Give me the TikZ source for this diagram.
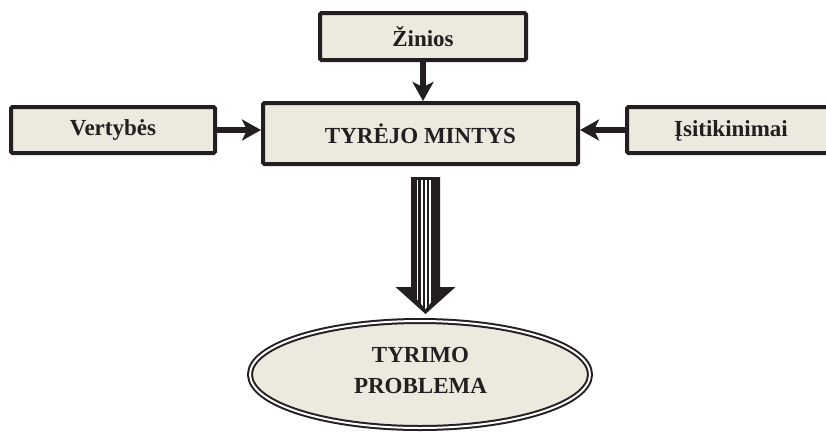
\documentclass[tikz,border=0pt]{standalone}
\usepackage{fontspec}
\setmainfont{Liberation Serif}
\usetikzlibrary{arrows.meta,shapes.geometric,calc}
\definecolor{paper}{RGB}{236,233,223}
\definecolor{ink}{RGB}{35,31,32}
\begin{document}
\begin{tikzpicture}[x=1pt,y=-1pt,
  box/.style={draw=ink, line width=4pt, fill=paper, rounded corners=1.5pt,
    inner sep=0pt, text=ink, font=\fontsize{23}{27}\selectfont\bfseries},
  feed/.style={draw=ink, line width=6pt,
    -{Stealth[length=19pt,width=21pt,inset=5pt]}},
  label text/.style={text=ink, align=center,
    font=\fontsize{23}{31}\selectfont\bfseries}
]
\clip (0,0) rectangle (826,431);

% input boxes and the central box
\node[box, minimum width=206pt, minimum height=47pt] (zin) at (423,36.5) {Žinios};
\node[box, minimum width=204pt, minimum height=46pt] (ver) at (113,130) {Vertybės};
\node[box, minimum width=315pt, minimum height=61pt] (main) at (420.5,133.5) {TYRĖJO MINTYS};
\node[box, minimum width=215pt, minimum height=46pt, anchor=west] (isi) at (625,130) {};
\node[text=ink, font=\fontsize{23}{27}\selectfont\bfseries] (isitxt) at (731,131) {Įsitikinimai};

% feeding arrows
\draw[feed] (zin.south) -- (zin.south |- main.north);
\draw[feed] (ver.east) -- (ver.east -| main.west);
\draw[feed] (isi.west) -- (isi.west -| main.east);

% result ellipse with a double outline
\node[ellipse, draw=ink, line width=2pt, double=white, double distance=2pt,
  fill=paper, minimum width=340pt, minimum height=107pt] (prob) at (420,374.5) {};
\node[label text] (probtxt) at ($(prob.center)+(0.5,-4.5)$) {TYRIMO\\PROBLEMA};

% striped block arrow from the central box down to the ellipse
\coordinate (atop) at ($(main.south)+(5,11)$);
\coordinate (atip) at ($(prob.north)+(5.5,-6)$);
\fill[ink] ($(atop)+(-14.5,0)$) -- ($(atop)+(14.5,0)$)
  -- ($(atop)+(14.5,110)$) -- ($(atop)+(30,110)$) -- (atip)
  -- ($(atop)+(-30,110)$) -- ($(atop)+(-14.5,110)$) -- cycle;
\begin{scope}
  \clip ($(atop)+(-9,3)$) -- ($(atop)+(6,3)$) -- ($(atop)+(6,112)$)
    -- ($(atop)+(14,116)$) -- ($(atip)+(0,-5)$) -- ($(atop)+(-14,116)$)
    -- ($(atop)+(-9,112)$) -- cycle;
  \foreach \dx in {-8,-3.8,0.4,4.6}
    \draw[white, line width=1.8pt] ($(atop)+(\dx,0)$) -- ($(atop)+(\dx,140)$);
\end{scope}
\end{tikzpicture}
\end{document}
